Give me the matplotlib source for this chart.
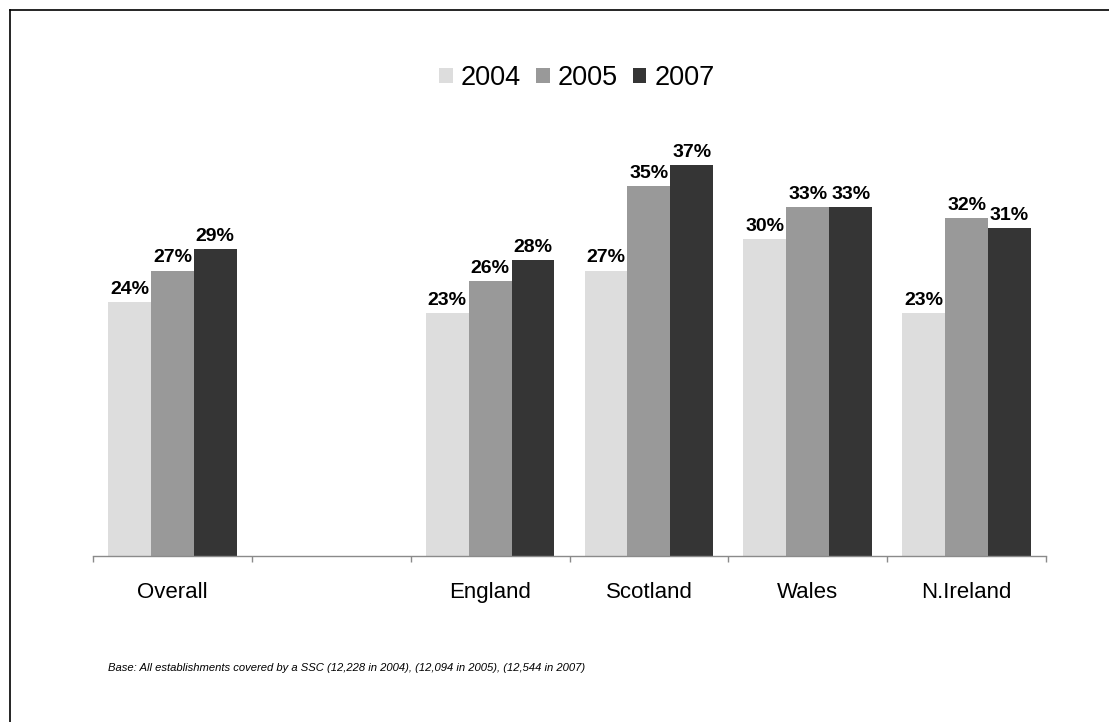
import matplotlib
matplotlib.use("Agg")
import matplotlib.pyplot as plt
from matplotlib.lines import Line2D
from matplotlib.patches import Patch
from matplotlib.transforms import blended_transform_factory
import numpy as np

plt.rcParams['font.family'] = ['Liberation Sans', 'DejaVu Sans']

categories = ["Overall", "", "England", "Scotland", "Wales", "N.Ireland"]
years = ["2004", "2005", "2007"]
values_2004 = [24, None, 23, 27, 30, 23]
values_2005 = [27, None, 26, 35, 33, 32]
values_2007 = [29, None, 28, 37, 33, 31]
colors = ["#dddddd", "#999999", "#353535"]
footnote = "Base: All establishments covered by a SSC (12,228 in 2004), (12,094 in 2005), (12,544 in 2007)"

W, H = 1109, 722
fig = plt.figure(figsize=(W / 100, H / 100), dpi=100)

ax_left, ax_right = 93 / W, 1046 / W
base_y = 556
px_per_unit = 10.57
ymax = 40
top_y = base_y - ymax * px_per_unit
ax = fig.add_axes([ax_left, (H - base_y) / H, ax_right - ax_left, (base_y - top_y) / H])

x = np.arange(len(categories)) + 0.5
bw = 0.27
series = [values_2004, values_2005, values_2007]
for i, (vals, col, yr) in enumerate(zip(series, colors, years)):
    xs = [xi + (i - 1) * bw for xi, v in zip(x, vals) if v is not None]
    vs = [v for v in vals if v is not None]
    bars = ax.bar(xs, vs, width=bw, color=col, edgecolor='none', label=yr)
    for b, v in zip(bars, vs):
        ax.annotate(f"{v}%", (b.get_x() + b.get_width() / 2, v),
                    xytext=(0, 3), textcoords='offset points',
                    ha='center', va='bottom', fontsize=14, fontweight='bold')

ax.set_xlim(0, len(categories))
ax.set_ylim(0, ymax)
for s in ['left', 'right', 'top']:
    ax.spines[s].set_visible(False)
ax.spines['bottom'].set_color('#8a8a8a')
ax.spines['bottom'].set_linewidth(1.0)
ax.set_yticks([])
ax.set_xticks(np.arange(len(categories) + 1))
ax.set_xticklabels([])
ax.tick_params(axis='x', direction='out', length=4, width=1.0, color='#8a8a8a')

trans = blended_transform_factory(ax.transData, ax.transAxes)
label_y = -(598 - base_y) / (base_y - top_y)
for xi, c in zip(x, categories):
    ax.text(xi, label_y, c, transform=trans, ha='center', va='baseline', fontsize=16)

leg_handles = [Patch(facecolor=c, edgecolor='none', label=y) for c, y in zip(colors, years)]
fig.legend(handles=leg_handles, loc='center', bbox_to_anchor=(577 / W, 1 - 78 / H),
           ncol=3, frameon=False, fontsize=19.5, handlelength=0.5, handleheight=0.5,
           handletextpad=0.3, columnspacing=0.55, borderaxespad=0)

fig.text(108 / W, 1 - 668 / H, footnote, ha='left', va='center', fontsize=8.1, style='italic')

# thin frame along the left and top edges
fig.add_artist(Line2D([9.5 / W, 9.5 / W], [0, 1 - 9.5 / H], transform=fig.transFigure,
                      color='black', linewidth=1.2))
fig.add_artist(Line2D([9.5 / W, 1], [1 - 9.5 / H, 1 - 9.5 / H], transform=fig.transFigure,
                      color='black', linewidth=1.2))

fig.savefig("out.png", dpi=100, facecolor='white')
